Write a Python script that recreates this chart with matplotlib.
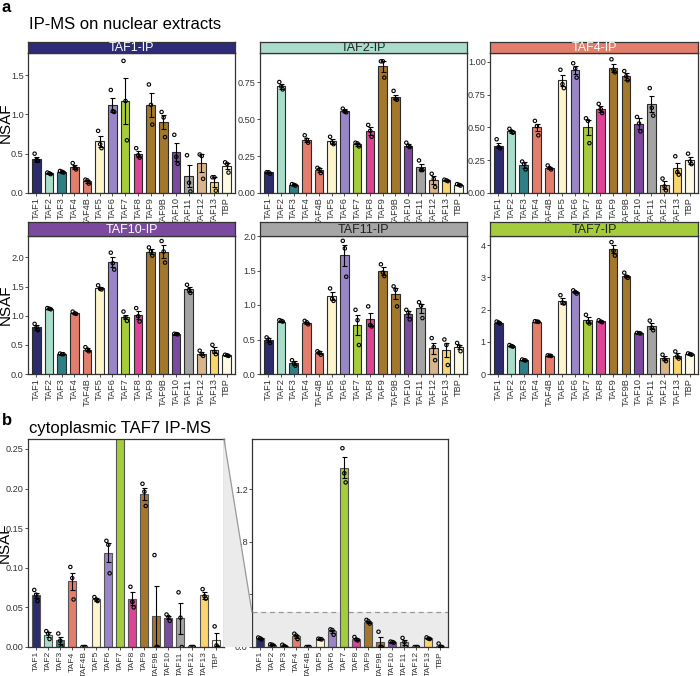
import numpy as np
import matplotlib
matplotlib.use("Agg")
import matplotlib.pyplot as plt
from matplotlib.patches import Polygon

plt.rcParams["font.family"] = ["Liberation Sans", "DejaVu Sans"]

W, H = 700, 676

tafs = ["TAF1", "TAF2", "TAF3", "TAF4", "TAF4B", "TAF5", "TAF6", "TAF7",
        "TAF8", "TAF9", "TAF9B", "TAF10", "TAF11", "TAF12", "TAF13", "TBP"]
taf_colors = ["#2c2c6e", "#a9dcc9", "#2f7f86", "#e37d6c", "#e37d6c", "#fdf5cc",
              "#9886c6", "#a5cc3a", "#dd4495", "#a4782c", "#a4782c", "#7b4a9e",
              "#a3a3a3", "#d8b48c", "#f8d66d", "#fdfbe3"]

# ---- panel a: nuclear extracts ----
taf1_ip_mean = [0.43, 0.25, 0.27, 0.33, 0.15, 0.66, 1.12, 1.17, 0.50, 1.12, 0.90, 0.52, 0.21, 0.38, 0.14, 0.34]
taf1_ip_sem = [0.03, 0.01, 0.01, 0.03, 0.02, 0.07, 0.09, 0.29, 0.04, 0.15, 0.09, 0.11, 0.14, 0.11, 0.06, 0.04]
taf1_ip_pts = [(0.50, 0.42, 0.41), (0.26, 0.25, 0.24), (0.28, 0.27, 0.26), (0.38, 0.32, 0.30),
               (0.17, 0.16, 0.12), (0.79, 0.62, 0.57), (1.31, 1.04, 1.03), (1.68, 1.17, 0.67),
               (0.57, 0.48, 0.45), (1.38, 1.12, 0.87), (1.03, 0.96, 0.71), (0.74, 0.46, 0.37),
               (0.48, 0.13, 0.02), (0.49, 0.47, 0.18), (0.20, 0.20, 0.03), (0.39, 0.37, 0.26)]

taf2_ip_mean = [0.14, 0.72, 0.055, 0.36, 0.155, 0.35, 0.555, 0.33, 0.42, 0.855, 0.65, 0.32, 0.175, 0.09, 0.085, 0.055]
taf2_ip_sem = [0.003, 0.015, 0.004, 0.015, 0.012, 0.018, 0.01, 0.01, 0.025, 0.035, 0.015, 0.01, 0.02, 0.028, 0.003, 0.004]
taf2_ip_pts = [(0.14, 0.14, 0.13), (0.75, 0.72, 0.70), (0.06, 0.055, 0.05), (0.39, 0.36, 0.34),
               (0.17, 0.16, 0.135), (0.38, 0.34, 0.33), (0.57, 0.55, 0.545), (0.34, 0.335, 0.315),
               (0.46, 0.42, 0.38), (0.89, 0.89, 0.78), (0.69, 0.635, 0.63), (0.34, 0.32, 0.31),
               (0.22, 0.155, 0.155), (0.13, 0.095, 0.04), (0.09, 0.085, 0.08), (0.06, 0.055, 0.05)]

taf4_ip_mean = [0.36, 0.47, 0.215, 0.50, 0.19, 0.86, 0.94, 0.50, 0.64, 0.955, 0.89, 0.53, 0.68, 0.06, 0.19, 0.25]
taf4_ip_sem = [0.02, 0.01, 0.025, 0.03, 0.01, 0.04, 0.03, 0.06, 0.02, 0.03, 0.025, 0.04, 0.06, 0.03, 0.04, 0.025]
taf4_ip_pts = [(0.41, 0.35, 0.34), (0.49, 0.47, 0.46), (0.24, 0.22, 0.18), (0.55, 0.51, 0.44),
               (0.21, 0.19, 0.18), (0.94, 0.83, 0.80), (0.99, 0.95, 0.88), (0.57, 0.55, 0.38),
               (0.68, 0.64, 0.61), (1.02, 0.94, 0.92), (0.93, 0.89, 0.86), (0.58, 0.53, 0.47),
               (0.80, 0.65, 0.59), (0.11, 0.05, 0.02), (0.28, 0.16, 0.14), (0.30, 0.24, 0.22)]

taf10_ip_mean = [0.80, 1.12, 0.34, 1.04, 0.42, 1.47, 1.92, 0.98, 1.01, 2.10, 2.10, 0.69, 1.45, 0.35, 0.41, 0.32]
taf10_ip_sem = [0.04, 0.01, 0.005, 0.01, 0.02, 0.02, 0.09, 0.04, 0.07, 0.04, 0.11, 0.005, 0.04, 0.03, 0.05, 0.008]
taf10_ip_pts = [(0.86, 0.80, 0.75), (1.13, 1.12, 1.11), (0.35, 0.34, 0.34), (1.07, 1.04, 1.03),
                (0.46, 0.42, 0.39), (1.52, 1.46, 1.45), (2.08, 1.90, 1.79), (1.07, 0.97, 0.91),
                (1.13, 0.99, 0.90), (2.17, 2.10, 2.03), (2.28, 2.10, 1.91), (0.69, 0.685, 0.68),
                (1.53, 1.44, 1.39), (0.40, 0.34, 0.31), (0.50, 0.38, 0.34), (0.33, 0.32, 0.31)]

taf11_ip_mean = [0.49, 0.76, 0.155, 0.74, 0.31, 1.13, 1.72, 0.71, 0.79, 1.49, 1.16, 0.87, 0.95, 0.37, 0.35, 0.39]
taf11_ip_sem = [0.03, 0.01, 0.03, 0.02, 0.02, 0.055, 0.15, 0.14, 0.09, 0.055, 0.08, 0.04, 0.07, 0.08, 0.10, 0.03]
taf11_ip_pts = [(0.53, 0.50, 0.45), (0.78, 0.77, 0.76), (0.20, 0.15, 0.12), (0.77, 0.75, 0.72),
                (0.33, 0.31, 0.28), (1.24, 1.09, 1.06), (1.93, 1.82, 1.41), (0.93, 0.78, 0.42),
                (0.98, 0.71, 0.69), (1.59, 1.47, 1.42), (1.27, 1.22, 0.98), (0.93, 0.89, 0.79),
                (1.04, 0.99, 0.81), (0.52, 0.39, 0.20), (0.50, 0.42, 0.13), (0.45, 0.40, 0.33)]

taf7_ip_mean = [1.60, 0.87, 0.435, 1.63, 0.57, 2.27, 2.55, 1.68, 1.64, 3.88, 3.05, 1.27, 1.49, 0.49, 0.57, 0.62]
taf7_ip_sem = [0.02, 0.02, 0.01, 0.01, 0.01, 0.08, 0.03, 0.09, 0.02, 0.13, 0.04, 0.01, 0.09, 0.06, 0.07, 0.02]
taf7_ip_pts = [(1.63, 1.60, 1.57), (0.90, 0.87, 0.85), (0.45, 0.43, 0.42), (1.64, 1.63, 1.62),
               (0.58, 0.57, 0.56), (2.45, 2.22, 2.19), (2.60, 2.55, 2.50), (1.84, 1.62, 1.57),
               (1.67, 1.63, 1.61), (4.10, 3.83, 3.68), (3.15, 3.03, 2.99), (1.28, 1.27, 1.26),
               (1.66, 1.44, 1.36), (0.60, 0.45, 0.40), (0.70, 0.55, 0.48), (0.64, 0.62, 0.60)]

# ---- panel b: cytoplasmic TAF7 IP ----
cyto_mean = [0.065, 0.0155, 0.0085, 0.083, 0.0, 0.060, 0.119, 1.36, 0.061, 0.193, 0.039, 0.037, 0.036, 0.0, 0.065, 0.0093]
cyto_sem = [0.003, 0.0035, 0.0045, 0.011, 0.0, 0.0015, 0.012, 0.08, 0.008, 0.0075, 0.038, 0.002, 0.02, 0.0, 0.004, 0.0085]
cyto_pts = [(0.072, 0.066, 0.058), (0.020, 0.017, 0.010), (0.017, 0.008, 0.0), (0.101, 0.087, 0.060),
            (0.0, 0.0, 0.0), (0.063, 0.060, 0.058), (0.134, 0.129, 0.093), (1.51, 1.32, 1.25),
            (0.076, 0.057, 0.050), (0.206, 0.196, 0.178), (0.116, 0.0, 0.0), (0.041, 0.038, 0.033),
            (0.069, 0.037, 0.0), (0.0, 0.0, 0.0), (0.073, 0.064, 0.061), (0.026, 0.002, 0.0)]
zoom_limit = 0.2625

jitter = [-0.13, 0.03, 0.14]

fig = plt.figure(figsize=(W / 100, H / 100), dpi=100)


def px_axes(x0, y0, x1, y1):
    return fig.add_axes([x0 / W, 1 - y1 / H, (x1 - x0) / W, (y1 - y0) / H])


def bar_panel(ax, mean, sem, pts, ylim, yticks, fmt, edge="#2b2b2b", xsize=6.6):
    x = np.arange(len(tafs))
    ax.bar(x, mean, width=0.68, color=taf_colors, edgecolor=edge, linewidth=0.8, zorder=2)
    for i in x:
        if sem[i] > 0:
            ax.errorbar(i, mean[i], yerr=sem[i], color="black", lw=0.8,
                        capsize=1.8, capthick=0.8, zorder=3)
        ax.scatter(i + np.array(jitter), pts[i], s=6, facecolors="none",
                   edgecolors="black", linewidths=0.8, zorder=4)
    ax.set_xlim(-0.65, len(tafs) - 0.35)
    ax.set_ylim(*ylim)
    ax.set_yticks(yticks)
    ax.set_yticklabels([fmt.format(t) for t in yticks])
    ax.set_xticks(x)
    ax.set_xticklabels(tafs, rotation=90)
    ax.tick_params(labelsize=6.6, length=2, width=0.6, pad=1, colors="#333333",
                   labelcolor="#333333")
    ax.tick_params(axis="x", labelsize=xsize)
    for s in ax.spines.values():
        s.set_color("#333333")
        s.set_linewidth(0.9)


def strip(x0, x1, y0, y1, label, color, tcolor):
    sa = px_axes(x0, y0, x1, y1)
    sa.set_facecolor(color)
    sa.set_xticks([])
    sa.set_yticks([])
    for s in sa.spines.values():
        s.set_color("#333333")
        s.set_linewidth(0.9)
    sa.text(0.5, 0.45, label, ha="center", va="center", fontsize=9, color=tcolor,
            transform=sa.transAxes)


cols = [(28, 235), (260, 467), (490, 698)]
top_row = [
    ("TAF1-IP", "#2e2c78", "white", taf1_ip_mean, taf1_ip_sem, taf1_ip_pts, (0, 1.78), [0, 0.5, 1.0, 1.5], "{:.1f}"),
    ("TAF2-IP", "#a9dcc9", "#222222", taf2_ip_mean, taf2_ip_sem, taf2_ip_pts, (0, 0.946), [0, 0.25, 0.5, 0.75], "{:.2f}"),
    ("TAF4-IP", "#e37d6c", "white", taf4_ip_mean, taf4_ip_sem, taf4_ip_pts, (0, 1.068), [0, 0.25, 0.5, 0.75, 1.0], "{:.2f}"),
]
bottom_row = [
    ("TAF10-IP", "#7b4a9e", "white", taf10_ip_mean, taf10_ip_sem, taf10_ip_pts, (0, 2.366), [0, 0.5, 1.0, 1.5, 2.0], "{:.1f}"),
    ("TAF11-IP", "#a6a6a6", "#222222", taf11_ip_mean, taf11_ip_sem, taf11_ip_pts, (0, 2.0), [0, 0.5, 1.0, 1.5, 2.0], "{:.1f}"),
    ("TAF7-IP", "#a5cc3a", "#222222", taf7_ip_mean, taf7_ip_sem, taf7_ip_pts, (0, 4.29), [0, 1, 2, 3, 4], "{:.0f}"),
]

for row, (sy0, sy1, py1) in [(top_row, (42, 53, 193)), (bottom_row, (222, 236, 374))]:
    for (x0, x1), (lab, scol, tcol, m, e, p, yl, yt, fmt) in zip(cols, row):
        ax = px_axes(x0, sy1, x1, py1)
        bar_panel(ax, m, e, p, yl, yt, fmt)
        strip(x0, x1, sy0, sy1, lab, scol, tcol)
        if x0 == 28:
            ax.set_ylabel("NSAF", fontsize=11)
            ax.yaxis.set_label_coords(-0.074, 0.5)

# panel b
axL = px_axes(28, 439, 224, 647)
bar_panel(axL, cyto_mean, cyto_sem, cyto_pts, (0, zoom_limit),
          [0, 0.05, 0.10, 0.15, 0.20, 0.25], "{:.2f}", edge="#555555", xsize=6.1)
axL.set_ylabel("NSAF", fontsize=11)
axL.yaxis.set_label_coords(-0.082, 0.5)

axR = px_axes(252, 439, 448, 647)
axR.axhspan(0, zoom_limit, color="#ebebeb", zorder=0, lw=0)
axR.axhline(zoom_limit, color="#999999", lw=0.9, ls=(0, (4, 3)), zorder=1)
bar_panel(axR, cyto_mean, cyto_sem, cyto_pts, (0, 1.58),
          [0, 0.4, 0.8, 1.2], "{:.1f}", edge="#555555", xsize=6.1)

# connector wedge between the two b panels
inv = fig.transFigure.inverted()
p_tl = inv.transform(axL.transAxes.transform((1, 1)))
p_bl = inv.transform(axL.transAxes.transform((1, 0)))
p_tr = inv.transform(axR.transData.transform((axR.get_xlim()[0], zoom_limit)))
p_br = inv.transform(axR.transAxes.transform((0, 0)))
fig.patches.append(Polygon([p_tl, p_tr, p_br, p_bl], closed=True, transform=fig.transFigure,
                           facecolor="#ebebeb", edgecolor="none", zorder=0))
fig.add_artist(plt.Line2D([p_tl[0], p_tr[0]], [p_tl[1], p_tr[1]], transform=fig.transFigure,
                          color="#999999", lw=0.9))

fig.text(2 / W, 1 - 12 / H, "a", fontsize=12, fontweight="bold", va="baseline")
fig.text(29 / W, 1 - 29 / H, "IP-MS on nuclear extracts", fontsize=12, va="baseline")
fig.text(2 / W, 1 - 425 / H, "b", fontsize=12, fontweight="bold", va="baseline")
fig.text(29 / W, 1 - 433 / H, "cytoplasmic TAF7 IP-MS", fontsize=12, va="baseline")

fig.savefig("out.png", dpi=100)
